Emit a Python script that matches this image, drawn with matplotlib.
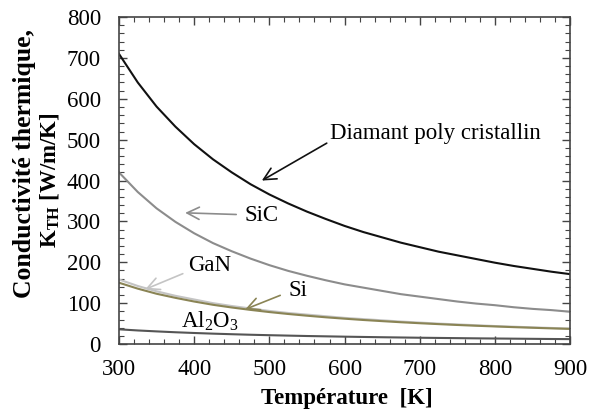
import matplotlib.pyplot as plt
from matplotlib.ticker import MultipleLocator

plt.rcParams['font.family'] = ['Liberation Serif', 'DejaVu Serif']
plt.rcParams['mathtext.fontset'] = 'custom'
plt.rcParams['mathtext.rm'] = 'Liberation Serif'
plt.rcParams['mathtext.bf'] = 'Liberation Serif:bold'

# Température [K]
temp = [300, 325, 350, 375, 400, 425, 450, 475, 500, 525, 550, 575, 600,
        625, 650, 675, 700, 725, 750, 775, 800, 825, 850, 875, 900]

# Conductivité thermique [W/m/K]
k_diamant = [710, 640, 581, 532, 489, 452, 420, 391, 366, 344, 324, 306, 289,
             274, 261, 248, 237, 226, 217, 208, 199, 191, 184, 177, 171]
k_sic = [420, 372, 332, 299, 271, 247, 227, 209, 193, 179, 167, 156, 146,
         138, 130, 122, 116, 110, 104, 99, 95, 90, 86, 83, 79]
k_gan = [158, 142, 129, 118, 109, 100, 93, 87, 81, 76, 72, 68, 64,
         61, 58, 55, 52.5, 50, 48, 46, 44, 42.4, 40.8, 39.3, 37.9]
k_si = [150, 135.5, 123, 113, 104, 96, 89.4, 83.5, 78.2, 73.5, 69.3, 65.4, 62,
        58.8, 56, 53.3, 50.9, 48.7, 46.6, 44.7, 43, 41.3, 39.8, 38.3, 37]
k_al2o3 = [36, 33.2, 30.9, 28.8, 27, 25.4, 24, 22.7, 21.6, 20.6, 19.6, 18.8, 18,
           17.3, 16.6, 16, 15.4, 14.9, 14.4, 13.9, 13.5, 13.1, 12.7, 12.3, 12]

fs = 16.5

fig = plt.figure(figsize=(5.89, 4.17), dpi=100)
ax = fig.add_axes([0.202, 0.175, 0.766, 0.784])

ax.plot(temp, k_diamant, color='#111111', lw=1.5)
ax.plot(temp, k_sic, color='#8c8c8c', lw=1.5)
ax.plot(temp, k_gan, color='#c4c4c4', lw=1.5)
ax.plot(temp, k_si, color='#8a8455', lw=1.5)
ax.plot(temp, k_al2o3, color='#555555', lw=1.5)

# étiquettes avec flèches
ax.annotate('Diamant poly cristallin', xy=(490, 400), xytext=(580, 516),
            fontsize=fs, va='center', ha='left',
            arrowprops=dict(arrowstyle='->', color='#111111', lw=1.2,
                            mutation_scale=22, shrinkA=0, shrinkB=0,
                            relpos=(0, 0.1)))
ax.annotate('SiC', xy=(388, 321), xytext=(467, 315),
            fontsize=fs, va='center', ha='left',
            arrowprops=dict(arrowstyle='->', color='#8c8c8c', lw=1.2,
                            mutation_scale=22, shrinkA=4, shrinkB=0))
ax.annotate('GaN', xy=(335, 134), xytext=(392, 193),
            fontsize=fs, va='center', ha='left',
            arrowprops=dict(arrowstyle='->', color='#c4c4c4', lw=1.2,
                            mutation_scale=22, shrinkA=2, shrinkB=0,
                            relpos=(0, 0.2)))
ax.annotate('Si', xy=(468, 85), xytext=(525, 132),
            fontsize=fs, va='center', ha='left',
            arrowprops=dict(arrowstyle='->', color='#8a8455', lw=1.2,
                            mutation_scale=22, shrinkA=4, shrinkB=0,
                            relpos=(0, 0.4)))
ax.text(383, 57, 'Al$_2$O$_3$', fontsize=fs, va='center', ha='left')

ax.set_xlim(300, 900)
ax.set_ylim(0, 800)
ax.xaxis.set_major_locator(MultipleLocator(100))
ax.xaxis.set_minor_locator(MultipleLocator(20))
ax.yaxis.set_major_locator(MultipleLocator(100))
ax.yaxis.set_minor_locator(MultipleLocator(20))
ax.tick_params(which='both', direction='in', top=True, right=True,
               labelsize=fs, color='#444444')
ax.tick_params(which='major', length=6, width=1)
ax.tick_params(which='minor', length=3.5, width=0.8)
ax.tick_params(axis='x', pad=11)
ax.tick_params(axis='y', pad=13)
for s in ax.spines.values():
    s.set_color('#444444')
    s.set_linewidth(1.2)

# titres des axes
fig.text(0.589, 0.045, 'Température  [K]', fontsize=fs, fontweight='bold',
         ha='center', va='center')
fig.text(0.042, 0.607, 'Conductivité thermique,', fontsize=18.5,
         fontweight='bold', rotation=90, ha='center', va='center')
fig.text(0.085, 0.568, 'K$_{\\mathbf{TH}}$ [W/m/K]', fontsize=fs,
         fontweight='bold', rotation=90, ha='center', va='center')

fig.savefig('out.png', dpi=100)
